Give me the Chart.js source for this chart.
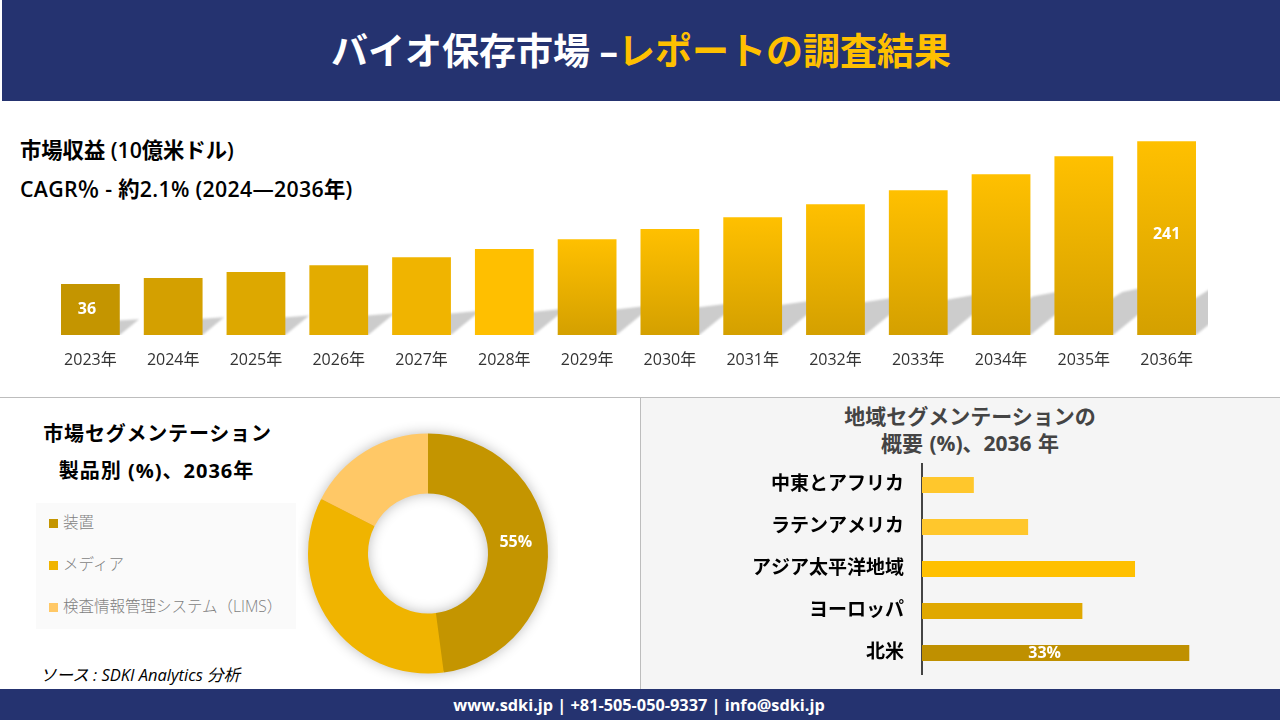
<!DOCTYPE html>
<html lang="ja"><head><meta charset="utf-8">
<script src="https://cdn.jsdelivr.net/npm/chart.js@4"></script>
<style>
html,body{margin:0;padding:0;background:#fff}
body{width:1280px;height:720px;position:relative;overflow:hidden;font-family:"Open Sans","Noto Sans CJK JP",sans-serif;color:#000}
.box{position:absolute}
.t{position:absolute;white-space:nowrap;line-height:1}
.c{transform:translate(-50%,-50%)}
.l{transform:translateY(-50%)}
canvas{position:absolute;display:block}
</style></head><body>
<div class="box" style="left:2px;top:0;width:1278px;height:101px;background:#253370"></div>
<div class="box" style="left:0;top:689px;width:1280px;height:31px;background:#253370"></div>
<div class="box" style="left:0;top:397px;width:1280px;height:1px;background:#bdbdbd"></div>
<div class="box" style="left:640px;top:398px;width:1px;height:291px;background:#bdbdbd"></div>
<div class="box" style="left:641px;top:398px;width:639px;height:291px;background:#f5f5f5"></div>
<div class="box" style="left:36px;top:503px;width:260px;height:126px;background:#fafafa"></div>

<div class="t c" style="left:641px;top:50px;font-size:37px;font-weight:700;color:#fff">バイオ保存市場 –<span style="color:#ffc000">レポートの調査結果</span></div>
<div class="t l" style="left:20px;top:150px;font-size:21.3px;font-weight:600">市場収益 (10億米ドル)</div>
<div class="t l" style="left:20px;top:189px;font-size:21.3px;font-weight:600;letter-spacing:0.3px">CAGR％ - 約2.1% (2024—2036年)</div>
<div class="t c" style="left:157.5px;top:434px;font-size:20px;font-weight:700;letter-spacing:0.8px">市場セグメンテーション</div>
<div class="t c" style="left:156.5px;top:471px;font-size:20px;font-weight:700;letter-spacing:1px">製品別 (%)、2036年</div>
<div class="t c" style="left:970px;top:416px;font-size:21px;font-weight:700;color:#444">地域セグメンテーションの</div>
<div class="t c" style="left:970px;top:443px;font-size:21px;font-weight:700;color:#444;word-spacing:1px">概要 (%)、2036 年</div>

<div class="box" style="left:49px;top:519px;width:9px;height:9px;background:#c49500"></div>
<div class="t l" style="left:63px;top:523px;font-size:15.5px;font-weight:300;color:#7f7f7f">装置</div>
<div class="box" style="left:49px;top:561px;width:9px;height:9px;background:#f0b400"></div>
<div class="t l" style="left:63px;top:565px;font-size:15.5px;font-weight:300;color:#7f7f7f">メディア</div>
<div class="box" style="left:49px;top:603px;width:9px;height:9px;background:#ffc866"></div>
<div class="t l" style="left:63px;top:607px;font-size:15.5px;font-weight:300;color:#7f7f7f">検査情報管理システム（LIMS）</div>

<div class="t l" style="left:40px;top:675px;font-size:16.5px;font-style:italic">ソース : SDKI Analytics 分析</div>
<div class="t c" style="left:639px;top:705px;font-size:16.3px;font-weight:700;color:#fff">www.sdki.jp | +81-505-050-9337 | info@sdki.jp</div>

<canvas id="bars" width="1280" height="270" style="left:0;top:120px"></canvas>
<canvas id="donut" width="260" height="265" style="left:298px;top:421px"></canvas>
<canvas id="regions" width="639" height="291" style="left:641px;top:398px"></canvas>

<script>
const FONT = '"Open Sans","Noto Sans CJK JP",sans-serif';

// Market revenue
const years = ['2023年','2024年','2025年','2026年','2027年','2028年','2029年','2030年','2031年','2032年','2033年','2034年','2035年','2036年'];
const revenue = [36,44.6,53.2,63.2,74.7,86.2,100.5,114.9,132.1,150.7,170.8,193.7,219.5,241];
const revenueLabels = ['36','','','','','','','','','','','','','241'];
const barTop = ['#c49500','#d4a000','#dda800','#e3ac00','#f0b400','#ffbf00','#ffc000','#ffc000','#ffc000','#ffc000','#ffc000','#ffc000','#ffc000','#ffc000'];
const barBottom = ['#c49500','#d4a000','#dda800','#e3ac00','#f0b400','#ffbf00','#d4a000','#d4a000','#d4a000','#d4a000','#d4a000','#d4a000','#d4a000','#d4a000'];

// Product segments
const products = ['装置','メディア','検査情報管理システム（LIMS）'];
const productShare = [47.9,34.6,17.5];
const productLabels = ['55%','',''];
const productColors = ['#c49500','#f0b400','#ffc866'];

// Regions
const regions = ['中東とアフリカ','ラテンアメリカ','アジア太平洋地域','ヨーロッパ','北米'];
const regionShare = [6.4,13.1,26.3,19.8,33];
const regionLabels = ['','','','','33%'];
const regionColors = ['#ffc72c','#ffc72c','#ffc000','#e0a800','#bf9000'];

const barShadow = {
  id:'barShadow',
  beforeDatasetsDraw(chart){
    const {ctx,chartArea:a} = chart;
    const els = chart.getDatasetMeta(0).data;
    ctx.save();
    ctx.beginPath(); ctx.rect(a.left,a.top,a.right-a.left,a.bottom-a.top); ctx.clip();
    ctx.fillStyle = '#cccccc';
    ctx.filter = 'blur(1px)';
    els.forEach(b=>{
      const h = b.base-b.y, l = b.x-b.width/2, r = b.x+b.width/2;
      const s = h*0.38;
      ctx.beginPath();
      ctx.moveTo(l,b.base); ctx.lineTo(r,b.base);
      ctx.lineTo(r+s,b.base-h*0.31); ctx.lineTo(l+s,b.base-h*0.24);
      ctx.closePath(); ctx.fill();
    });
    ctx.restore();
  }
};
const valueText = {
  id:'valueText',
  afterDatasetsDraw(chart,args,o){
    const {ctx} = chart;
    ctx.save();
    ctx.fillStyle='#fff'; ctx.textAlign='center'; ctx.textBaseline='middle';
    ctx.font = '700 '+o.size+'px '+FONT;
    chart.getDatasetMeta(0).data.forEach((el,i)=>{
      if(!o.labels[i]) return;
      const p = el.getCenterPoint();
      const off = o.offsets[i]||[0,0];
      ctx.fillText(o.labels[i],p.x+off[0],p.y+off[1]);
    });
    ctx.restore();
  }
};
const ringShadow = {
  id:'ringShadow',
  beforeDatasetsDraw(chart){
    const {ctx} = chart;
    const a = chart.getDatasetMeta(0).data[0];
    ctx.save();
    ctx.shadowColor='rgba(0,0,0,0.3)'; ctx.shadowBlur=14; ctx.fillStyle='#c49500';
    ctx.beginPath();
    ctx.arc(a.x,a.y,a.outerRadius-1,0,Math.PI*2);
    ctx.arc(a.x,a.y,a.innerRadius+1,0,Math.PI*2,true);
    ctx.fill();
    ctx.restore();
  }
};

new Chart(document.getElementById('bars'),{
  type:'bar',
  data:{labels:years,datasets:[{data:revenue,base:-37,categoryPercentage:1,barPercentage:0.71,
    backgroundColor(c){
      const ch=c.chart, i=c.dataIndex;
      if(c.type!=='data'||!ch.scales.y) return barTop[i||0];
      if(barTop[i]===barBottom[i]) return barTop[i];
      const y0=ch.scales.y.getPixelForValue(c.raw), y1=ch.scales.y.getPixelForValue(-37);
      const g=ch.ctx.createLinearGradient(0,y0,0,y1);
      g.addColorStop(0,barTop[i]); g.addColorStop(1,barBottom[i]);
      return g;
    }}]},
  options:{responsive:false,animation:false,
    layout:{padding:{left:49,right:72,top:1,bottom:0}},
    plugins:{legend:{display:false},tooltip:{enabled:false},
      valueText:{labels:revenueLabels,size:16,offsets:{0:[-3.5,0],13:[0,-4]}}},
    scales:{
      x:{grid:{display:false},border:{display:false},
        afterFit(s){s.height=55;},
        ticks:{color:'#333',font:{family:FONT,size:16},padding:8,maxRotation:0,autoSkip:false}},
      y:{display:false,min:-37,max:270}
    }},
  plugins:[barShadow,valueText]
});

new Chart(document.getElementById('donut'),{
  type:'doughnut',
  data:{labels:products,datasets:[{data:productShare,backgroundColor:productColors,borderWidth:0}]},
  options:{responsive:false,animation:false,cutout:'50%',radius:120,
    plugins:{legend:{display:false},tooltip:{enabled:false},
      valueText:{labels:productLabels,size:16,offsets:{0:[-2,-5]}}}},
  plugins:[ringShadow,valueText]
});

new Chart(document.getElementById('regions'),{
  type:'bar',
  data:{labels:regions,datasets:[{data:regionShare,backgroundColor:regionColors,categoryPercentage:1,barPercentage:0.38}]},
  options:{indexAxis:'y',responsive:false,animation:false,
    layout:{padding:{left:0,right:34,top:66,bottom:15}},
    plugins:{legend:{display:false},tooltip:{enabled:false},
      valueText:{labels:regionLabels,size:16,offsets:{4:[-11,0]}}},
    scales:{
      x:{display:false,min:0,max:40},
      y:{grid:{display:false},border:{display:true,color:'#444',width:2},
        afterFit(s){s.width=281;s.paddingTop=0;s.paddingBottom=0;},
        ticks:{color:'#000',font:{family:FONT,size:19,weight:'700'},padding:10,autoSkip:false}}
    }},
  plugins:[valueText]
});
</script>
</body></html>
